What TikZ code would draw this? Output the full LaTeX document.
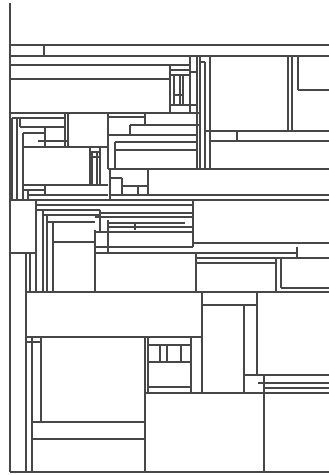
\documentclass[tikz,border=0pt]{standalone}
\begin{document}
\begin{tikzpicture}[x=1pt,y=-1pt,ln/.style={draw=black!72,line width=1.3pt}]
\useasboundingbox (0,0) rectangle (329,475);
\fill[white] (0,0) rectangle (329,475);
% frame and top bands
\draw[ln] (10,3)--(10,472) (10,472)--(329,472);
\draw[ln] (10,45)--(329,45) (44,45)--(44,56) (10,56)--(329,56);
\draw[ln] (10,65)--(190,65) (10,79)--(170,79);
% column x 170-210
\draw[ln] (170,65)--(170,113) (170,70)--(190,70) (170,75)--(190,75);
\draw[ln] (190,56)--(190,113) (197,56)--(197,169) (200,56)--(200,169) (205,62)--(205,169) (210,56)--(210,169);
\draw[ln] (174,75)--(174,105) (180,75)--(180,105) (183,75)--(183,105) (170,105)--(197,105) (174,95)--(183,95);
\draw[ln] (190,72)--(197,72) (200,62)--(205,62);
% box right top
\draw[ln] (288,56)--(288,131) (292,56)--(292,131) (298,56)--(298,90) (298,90)--(329,90);
\draw[ln] (205,131)--(329,131) (210,141)--(329,141) (237,131)--(237,141);
% row y=113
\draw[ln] (10,113)--(200,113);
% left block y 113-200
\draw[ln] (12,118)--(12,200) (17,118)--(17,200) (23,133)--(23,200);
\draw[ln] (12,118)--(65,118) (65,113)--(65,147) (68,113)--(68,147);
\draw[ln] (20,118)--(20,127) (20,127)--(65,127) (23,133)--(45,133) (45,127)--(45,147) (38,141)--(68,141);
\draw[ln] (23,147)--(108,147) (108,113)--(108,169);
\draw[ln] (90,147)--(90,185) (92,152)--(92,185) (97,152)--(97,185) (100,147)--(100,185) (90,152)--(100,152) (92,157)--(100,157);
\draw[ln] (23,185)--(108,185) (23,190)--(45,190) (45,185)--(45,195) (28,190)--(28,200) (28,195)--(108,195);
% middle block x 108-200 y 113-200
\draw[ln] (108,117)--(145,117) (145,113)--(145,125) (130,125)--(200,125) (130,125)--(130,135);
\draw[ln] (108,135)--(197,135) (115,142)--(197,142) (115,150)--(197,150) (115,142)--(115,169);
\draw[ln] (108,169)--(329,169) (148,169)--(148,195) (110,169)--(110,200);
\draw[ln] (122,178)--(122,195) (122,186)--(148,186) (138,186)--(138,195) (110,178)--(122,178);
\draw[ln] (110,195)--(329,195) (10,200)--(329,200);
% block y 200-292 left
\draw[ln] (36,200)--(36,292) (10,253)--(36,253) (26,253)--(26,472) (30,253)--(30,292);
\draw[ln] (43,210)--(43,292) (47,215)--(47,292) (53,222)--(53,292);
\draw[ln] (36,205)--(193,205) (36,210)--(100,210) (43,215)--(100,215) (47,222)--(95,222);
\draw[ln] (100,210)--(100,232) (100,213)--(193,213) (95,217)--(193,217) (108,223)--(185,223) (108,227)--(193,227);
\draw[ln] (108,220)--(108,253) (135,222)--(135,230) (95,232)--(193,232) (53,242)--(95,242) (95,230)--(95,292);
\draw[ln] (95,247)--(193,247) (95,253)--(297,253);
% block y 200-292 right
\draw[ln] (193,200)--(193,247) (193,243)--(329,243) (297,247)--(297,258) (196,258)--(329,258);
\draw[ln] (196,253)--(196,292) (196,263)--(276,263) (276,258)--(276,292) (281,258)--(281,288) (281,288)--(329,288);
% y 292-337
\draw[ln] (26,292)--(329,292) (26,337)--(202,337) (202,292)--(202,393);
\draw[ln] (257,292)--(257,375) (202,305)--(257,305) (244,305)--(244,393);
% bottom
\draw[ln] (32,337)--(32,472) (41,337)--(41,422) (26,342)--(41,342) (32,422)--(145,422) (32,439)--(145,439) (145,337)--(145,472);
\draw[ln] (148,337)--(148,393) (191,337)--(191,393) (148,345)--(191,345) (148,362)--(191,362) (160,345)--(160,362) (167,345)--(167,362) (181,345)--(181,362) (148,387)--(191,387);
\draw[ln] (145,393)--(329,393) (244,375)--(329,375) (258,383)--(329,383) (264,375)--(264,472) (264,388)--(329,388);
\end{tikzpicture}
\end{document}
